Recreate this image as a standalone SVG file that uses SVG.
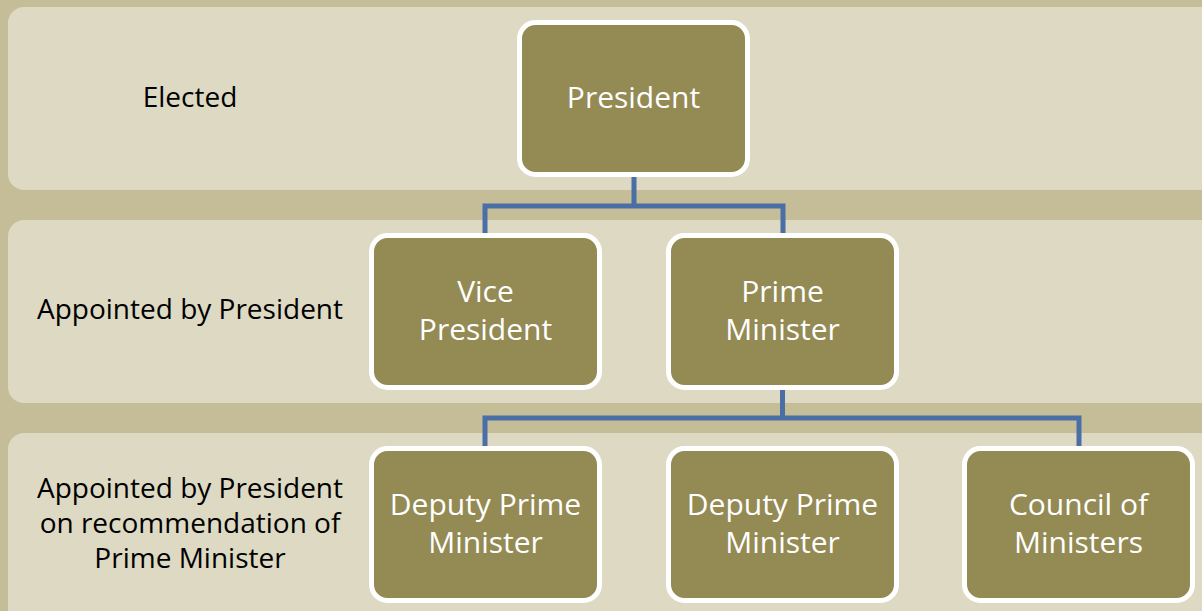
<svg xmlns="http://www.w3.org/2000/svg" width="1202" height="611" viewBox="0 0 1202 611">
<style>
.band{fill:#DDD9C3}
.node{fill:#948A54;stroke:#FFFFFF;stroke-width:5}
.nt{font-family:"Open Sans","Liberation Sans",sans-serif;font-size:30px;fill:#FFFFFF;text-anchor:middle}
.lt{font-family:"Open Sans","Liberation Sans",sans-serif;font-size:28px;fill:#000000;text-anchor:middle}
.conn{fill:none;stroke:#4A6EA6;stroke-width:5;stroke-linejoin:miter}
</style>
<rect x="0" y="0" width="1202" height="611" fill="#C4BD97"/>
<g id="bands">
<rect class="band" x="8" y="7" width="1220" height="183" rx="16"/>
<rect class="band" x="8" y="220" width="1220" height="183" rx="16"/>
<rect class="band" x="8" y="433" width="1220" height="200" rx="16"/>
</g>
<g id="labels">
<text class="lt" x="190" y="107">Elected</text>
<text class="lt" x="190" y="319">Appointed by President</text>
<text class="lt" x="190" y="498">Appointed by President</text>
<text class="lt" x="190" y="533">on recommendation of</text>
<text class="lt" x="190" y="568">Prime Minister</text>
</g>
<g id="connectors">
<path class="conn" d="M634 177 V206 M485 233 V206 H783 V233"/>
<path class="conn" d="M782.5 390 V418 M485 446 V418 H1079 V446"/>
</g>
<g id="president">
<rect class="node" x="519.5" y="22.5" width="228" height="152" rx="16"/>
<text class="nt" x="633.5" y="108">President</text>
</g>
<g id="vice-president">
<rect class="node" x="371.5" y="235.5" width="228" height="152" rx="16"/>
<text class="nt" x="485.5" y="302">Vice</text>
<text class="nt" x="485.5" y="340">President</text>
</g>
<g id="prime-minister">
<rect class="node" x="668.5" y="235.5" width="228" height="152" rx="16"/>
<text class="nt" x="782.5" y="302">Prime</text>
<text class="nt" x="782.5" y="340">Minister</text>
</g>
<g id="deputy-pm-1">
<rect class="node" x="371.5" y="448.5" width="228" height="152" rx="16"/>
<text class="nt" x="485.5" y="515">Deputy Prime</text>
<text class="nt" x="485.5" y="553">Minister</text>
</g>
<g id="deputy-pm-2">
<rect class="node" x="668.5" y="448.5" width="228" height="152" rx="16"/>
<text class="nt" x="782.5" y="515">Deputy Prime</text>
<text class="nt" x="782.5" y="553">Minister</text>
</g>
<g id="council">
<rect class="node" x="964.5" y="448.5" width="228" height="152" rx="16"/>
<text class="nt" x="1078.5" y="515">Council of</text>
<text class="nt" x="1078.5" y="553">Ministers</text>
</g>
</svg>
